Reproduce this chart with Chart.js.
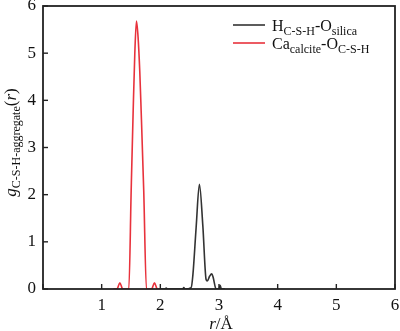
<!DOCTYPE html>
<html>
<head>
<meta charset="utf-8">
<script src="https://cdn.jsdelivr.net/npm/chart.js@4"></script>
<style>
html,body{margin:0;padding:0;background:#fff;}
#wrap{width:400px;height:331px;position:relative;}
</style>
</head>
<body>
<div id="wrap"><canvas id="c" width="400" height="331"></canvas></div>
<script>
// ---- data ----
const xTicks = [0, 1, 2, 3, 4, 5, 6];
const yTicks = [0, 1, 2, 3, 4, 5, 6];

const hSilicaR = [2.00, 2.08, 2.10, 2.12, 2.38, 2.40, 2.42, 2.525, 2.555, 2.61, 2.666, 2.724, 2.78, 2.80, 2.84, 2.876, 2.90, 2.95, 3.00, 3.02, 3.04, 3.10];
const hSilicaG = [0.00, 0.00, 0.02, 0.00, 0.00, 0.03, 0.00, 0.03, 0.30, 1.30, 2.22, 1.35, 0.20, 0.17, 0.27, 0.32, 0.25, 0.00, 0.00, 0.08, 0.00, 0.00];

const caCalciteR = [1.20, 1.26, 1.31, 1.36, 1.463, 1.503, 1.537, 1.565, 1.593, 1.62, 1.65, 1.673, 1.717, 1.763, 1.85, 1.90, 1.95, 2.00];
const caCalciteG = [0.00, 0.00, 0.13, 0.00, 0.00, 2.09, 3.78, 5.00, 5.68, 5.35, 4.60, 3.78, 2.09, 0.00, 0.00, 0.13, 0.00, 0.00];

const seriesNames = ['H-O (silica)', 'Ca-O (calcite)'];
const colBlack = '#333333';
const colRed = '#e8323c';

const toPts = (xs, ys) => xs.map((x, i) => ({x: x, y: ys[i]}));

const SERIF = '"Liberation Serif", "Times New Roman", serif';

function drawRich(ctx, segs, x, y, align) {
  let w = 0;
  segs.forEach(s => { ctx.font = s.font; s.w = ctx.measureText(s.t).width; w += s.w; });
  let cx = align === 'center' ? x - w / 2 : x;
  segs.forEach(s => {
    ctx.font = s.font;
    ctx.fillText(s.t, cx, y + (s.dy || 0));
    cx += s.w;
  });
}

const decor = {
  id: 'decor',
  afterDraw(chart) {
    const ctx = chart.ctx;
    const xs = chart.scales.x, ys = chart.scales.y;
    const L = xs.getPixelForValue(0), R = xs.getPixelForValue(6);
    const B = ys.getPixelForValue(0), T = ys.getPixelForValue(6);
    ctx.save();
    ctx.lineWidth = 1.8;
    ctx.strokeStyle = '#222222';
    const seg = (x1, y1, x2, y2) => { ctx.beginPath(); ctx.moveTo(x1, y1); ctx.lineTo(x2, y2); ctx.stroke(); };
    // frame
    ctx.strokeRect(L, T, R - L, B - T);
    // inward ticks
    ctx.lineWidth = 1.4;
    xTicks.forEach(v => { const px = xs.getPixelForValue(v); seg(px, B, px, B - 5); });
    yTicks.forEach(v => { const py = ys.getPixelForValue(v); seg(L, py, L + 5, py); });

    ctx.fillStyle = '#111';
    ctx.textBaseline = 'alphabetic';
    ctx.textAlign = 'left';
    // x title
    drawRich(ctx, [
      {t: 'r', font: 'italic 17px ' + SERIF},
      {t: '/Å', font: '17px ' + SERIF}
    ], (L + R) / 2 + 2, 329, 'center');

    // y title (rotated)
    ctx.save();
    ctx.translate(16, (T + B) / 2 - 5);
    ctx.rotate(-Math.PI / 2);
    drawRich(ctx, [
      {t: 'g', font: 'italic 17px ' + SERIF},
      {t: 'C-S-H-aggregate', font: '12px ' + SERIF, dy: 4},
      {t: '(', font: '17px ' + SERIF},
      {t: 'r', font: 'italic 17px ' + SERIF},
      {t: ')', font: '17px ' + SERIF}
    ], 0, 0, 'center');
    ctx.restore();

    // legend
    const lx0 = 233, lx1 = 265, tx = 272;
    ctx.lineWidth = 1.6;
    ctx.strokeStyle = colBlack;
    seg(lx0, 25, lx1, 25);
    ctx.strokeStyle = colRed;
    seg(lx0, 43, lx1, 43);
    drawRich(ctx, [
      {t: 'H', font: '16px ' + SERIF},
      {t: 'C-S-H', font: '12px ' + SERIF, dy: 4},
      {t: '-O', font: '16px ' + SERIF},
      {t: 'silica', font: '12px ' + SERIF, dy: 4}
    ], tx, 31, 'left');
    drawRich(ctx, [
      {t: 'Ca', font: '16px ' + SERIF},
      {t: 'calcite', font: '12px ' + SERIF, dy: 4},
      {t: '-O', font: '16px ' + SERIF},
      {t: 'C-S-H', font: '12px ' + SERIF, dy: 4}
    ], tx, 49, 'left');
    ctx.restore();
  }
};

new Chart(document.getElementById('c'), {
  type: 'line',
  data: {
    datasets: [
      {label: seriesNames[0], data: toPts(hSilicaR, hSilicaG), borderColor: colBlack, borderWidth: 1.6, pointRadius: 0, cubicInterpolationMode: 'monotone', fill: false},
      {label: seriesNames[1], data: toPts(caCalciteR, caCalciteG), borderColor: colRed, borderWidth: 1.6, pointRadius: 0, cubicInterpolationMode: 'monotone', fill: false}
    ]
  },
  options: {
    responsive: false,
    animation: false,
    events: [],
    layout: {padding: {left: 0, right: 5, top: 6, bottom: 0}},
    plugins: {legend: {display: false}, tooltip: {enabled: false}},
    scales: {
      x: {
        type: 'linear', min: 0, max: 6,
        grid: {display: false, drawTicks: false},
        border: {display: false},
        afterBuildTicks: s => { s.ticks = xTicks.map(v => ({value: v})); },
        ticks: {
          font: {family: SERIF, size: 17}, color: '#111', padding: 6, maxRotation: 0,
          callback: (v) => (v === 0 ? '' : String(v))
        },
        afterFit: s => { s.height = 42; s.paddingLeft = 0; s.paddingRight = 0; }
      },
      y: {
        type: 'linear', min: 0, max: 6,
        grid: {display: false, drawTicks: false},
        border: {display: false},
        afterBuildTicks: s => { s.ticks = yTicks.map(v => ({value: v})); },
        ticks: {font: {family: SERIF, size: 17}, color: '#111', padding: 7},
        afterFit: s => { s.width = 43; s.paddingTop = 0; s.paddingBottom = 0; }
      }
    }
  },
  plugins: [decor]
});
</script>
</body>
</html>
